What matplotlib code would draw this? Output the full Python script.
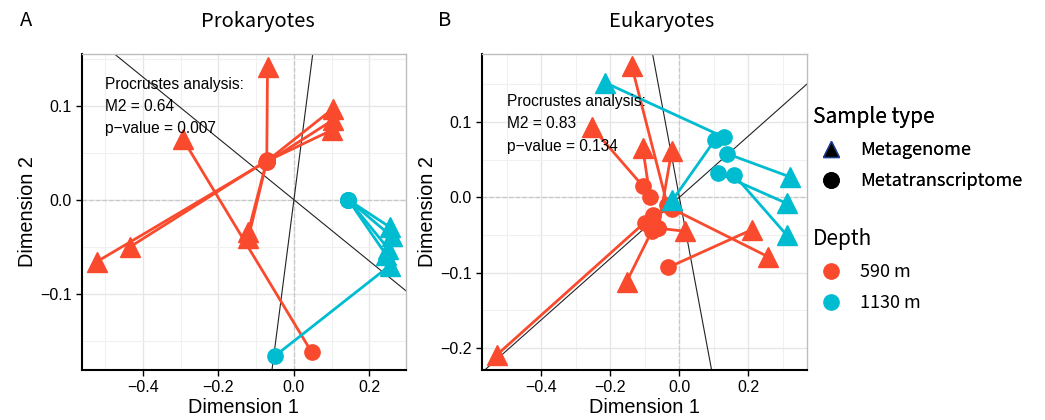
import matplotlib.pyplot as plt
from matplotlib.lines import Line2D
from matplotlib.ticker import MultipleLocator

RED = '#FA4A2E'
CYAN = '#00BCD0'

# Panel A (Prokaryotes): metagenome triangle -> metatranscriptome circle
a_tri_x = [-0.070, 0.104, 0.104, 0.100, -0.295, -0.121, -0.121, -0.434, -0.523,
           0.254, 0.259, 0.250, 0.245, 0.254]
a_tri_y = [0.141, 0.097, 0.085, 0.074, 0.065, -0.034, -0.041, -0.050, -0.066,
           -0.029, -0.039, -0.052, -0.059, -0.070]
a_cir_x = [-0.072, -0.072, -0.071, -0.072, 0.047, -0.073, -0.072, -0.071, -0.072,
           0.144, 0.144, 0.144, 0.144, -0.050]
a_cir_y = [0.041, 0.041, 0.040, 0.041, -0.162, 0.040, 0.041, 0.042, 0.041,
           0.000, 0.000, 0.000, 0.000, -0.166]
a_depth = ['590'] * 9 + ['1130'] * 5
a_slopes = [-0.326, 3.11]
a_stats = ['0.64', '0.007']

# Panel B (Eukaryotes)
b_tri_x = [-0.138, -0.254, -0.106, -0.022, 0.016, 0.210, 0.258, -0.153, -0.529,
           -0.215, -0.020, 0.321, 0.311, 0.311]
b_tri_y = [0.174, 0.093, 0.065, 0.062, -0.045, -0.043, -0.079, -0.112, -0.209,
           0.152, -0.004, 0.027, -0.008, -0.050]
b_cir_x = [-0.035, -0.106, -0.085, -0.061, -0.061, -0.032, -0.022, -0.080, -0.075,
           0.128, 0.103, 0.137, 0.113, 0.158]
b_cir_y = [-0.010, 0.015, 0.001, -0.041, -0.041, -0.093, -0.015, -0.045, -0.023,
           0.080, 0.076, 0.058, 0.032, 0.030]
b_depth = ['590'] * 9 + ['1130'] * 5
b_extra_x = [-0.100]
b_extra_y = [-0.034]
b_slopes = [-2.45, 0.406]
b_stats = ['0.83', '0.134']

depth_col = {'590': RED, '1130': CYAN}
FONT = ['Liberation Sans', 'DejaVu Sans']
CJK = ['Noto Sans CJK SC', 'DejaVu Sans']


def panel(ax, tx, ty, cx, cy, depth, slopes, stats, xlim, ylim, yticks, text_xy):
    ax.set_xlim(*xlim)
    ax.set_ylim(*ylim)
    ax.xaxis.set_major_locator(MultipleLocator(0.2))
    ax.xaxis.set_minor_locator(MultipleLocator(0.1))
    ax.set_yticks(yticks)
    ax.yaxis.set_minor_locator(MultipleLocator(0.05))
    ax.grid(True, which='major', color='#e6e6e6', lw=1.0)
    ax.grid(True, which='minor', color='#f0f0f0', lw=0.8)
    ax.set_axisbelow(True)
    ax.axhline(0, color='#c8c8c8', ls='--', lw=0.9, zorder=1)
    ax.axvline(0, color='#c8c8c8', ls='--', lw=0.9, zorder=1)
    for s in slopes:
        ax.axline((0, 0), slope=s, color='#222222', lw=0.8, zorder=2)
    for i in range(len(tx)):
        c = depth_col[depth[i]]
        ax.plot([tx[i], cx[i]], [ty[i], cy[i]], color=c, lw=2.0, zorder=3)
        ax.plot(cx[i], cy[i], 'o', color=c, ms=11, zorder=4)
        ax.plot(tx[i], ty[i], '^', color=c, ms=15, zorder=5)
    ax.text(text_xy[0], text_xy[1],
            'Procrustes analysis:\nM2 = %s\np\u2212value = %s' % (stats[0], stats[1]),
            fontsize=11.2, family=FONT, va='top', ha='left', linespacing=1.62, zorder=6)
    for side in ['top', 'right']:
        ax.spines[side].set_color('#bdbdbd')
        ax.spines[side].set_linewidth(1.0)
    for side in ['left', 'bottom']:
        ax.spines[side].set_color('black')
        ax.spines[side].set_linewidth(1.5)
    ax.tick_params(which='major', length=4, width=1, labelsize=11.5)
    ax.tick_params(which='minor', length=0)
    for lab in ax.get_xticklabels() + ax.get_yticklabels():
        lab.set_family(FONT)
    ax.set_xlabel('Dimension 1', fontsize=14.3, family=FONT, labelpad=2)
    ax.set_ylabel('Dimension 2', fontsize=14.3, family=FONT, labelpad=2)


fig = plt.figure(figsize=(10.45, 4.2), dpi=100)
axA = fig.add_axes([82 / 1045, 1 - 370 / 420, 324 / 1045, 316 / 420])
axB = fig.add_axes([482 / 1045, 1 - 370 / 420, 325 / 1045, 316 / 420])

panel(axA, a_tri_x, a_tri_y, a_cir_x, a_cir_y, a_depth, a_slopes, a_stats,
      (-0.5616, 0.297), (-0.181, 0.155), [-0.1, 0.0, 0.1], (-0.50, 0.131))
panel(axB, b_tri_x, b_tri_y, b_cir_x, b_cir_y, b_depth, b_slopes, b_stats,
      (-0.572, 0.370), (-0.229, 0.19), [-0.2, -0.1, 0.0, 0.1], (-0.50, 0.137))
axB.plot(b_extra_x, b_extra_y, 'o', color=RED, ms=11, zorder=4)

fig.text(20 / 1045, 1 - 21 / 420, 'A', fontsize=14.5, family=CJK, weight='light',
         va='center')
fig.text(258 / 1045, 1 - 21 / 420, 'Prokaryotes', fontsize=14.5, family=CJK,
         weight='light', va='center', ha='center')
fig.text(438 / 1045, 1 - 21 / 420, 'B', fontsize=14.5, family=CJK, weight='light',
         va='center')
fig.text(662 / 1045, 1 - 21 / 420, 'Eukaryotes', fontsize=14.5, family=CJK,
         weight='light', va='center', ha='center')

h_type = [Line2D([], [], marker='^', ls='', color='black', mec='#1f3f8f', ms=12),
          Line2D([], [], marker='o', ls='', color='black', ms=11)]
leg1 = fig.legend(h_type, ['Metagenome', 'Metatranscriptome'], title='Sample type',
                  loc='upper left', bbox_to_anchor=(797 / 1045, 1 - 90 / 420),
                  frameon=False,
                  prop={'family': CJK, 'size': 13, 'weight': 'light'},
                  title_fontproperties={'family': CJK, 'size': 15, 'weight': 'light'},
                  handletextpad=0.6, labelspacing=0.72, alignment='left')
h_depth = [Line2D([], [], marker='o', ls='', color=RED, ms=11),
           Line2D([], [], marker='o', ls='', color=CYAN, ms=11)]
leg2 = fig.legend(h_depth, ['590 m', '1130 m'], title='Depth',
                  loc='upper left', bbox_to_anchor=(797 / 1045, 1 - 212 / 420),
                  frameon=False,
                  prop={'family': CJK, 'size': 13, 'weight': 'light'},
                  title_fontproperties={'family': CJK, 'size': 15, 'weight': 'light'},
                  handletextpad=0.6, labelspacing=0.72, alignment='left')
fig.add_artist(leg1)

fig.savefig('out.png', dpi=100)
